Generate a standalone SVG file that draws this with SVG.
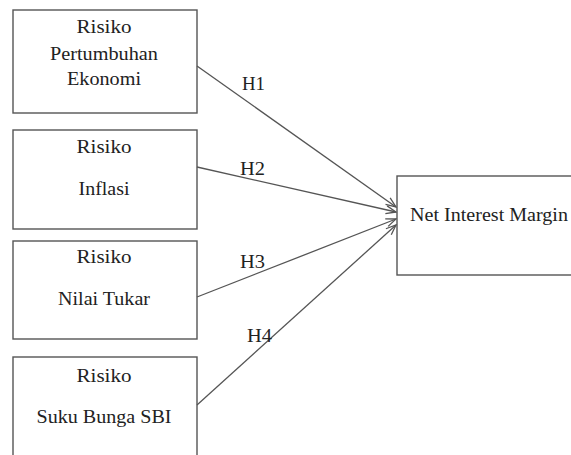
<svg xmlns="http://www.w3.org/2000/svg" width="571" height="455" viewBox="0 0 571 455">
<defs>
<style>
.box{fill:#fff;stroke:#555;stroke-width:1.4}
text{font-family:'Liberation Serif','DejaVu Serif','Times New Roman',serif;font-size:18px;fill:#222}
.t{text-anchor:middle}
.ln{stroke:#555;stroke-width:1.3;fill:none;marker-end:url(#arr)}
</style>
<marker id="arr" markerWidth="12" markerHeight="10" refX="11" refY="5" orient="auto" markerUnits="userSpaceOnUse">
<path d="M1,1 L11,5 L1,9" fill="none" stroke="#555" stroke-width="1.3"/>
</marker>
</defs>
<rect width="571" height="455" fill="#fff"/>
<g id="n1">
<rect class="box" x="13" y="10" width="184" height="103"/>
<text class="t" x="104" y="33" textLength="55" lengthAdjust="spacingAndGlyphs">Risiko</text>
<text class="t" x="104" y="60" textLength="108" lengthAdjust="spacingAndGlyphs">Pertumbuhan</text>
<text class="t" x="104" y="85" textLength="74" lengthAdjust="spacingAndGlyphs">Ekonomi</text>
</g>
<g id="n2">
<rect class="box" x="13" y="130" width="184" height="99"/>
<text class="t" x="104" y="153" textLength="55" lengthAdjust="spacingAndGlyphs">Risiko</text>
<text class="t" x="104" y="195" textLength="51" lengthAdjust="spacingAndGlyphs">Inflasi</text>
</g>
<g id="n3">
<rect class="box" x="13" y="241" width="184" height="98"/>
<text class="t" x="104" y="263" textLength="55" lengthAdjust="spacingAndGlyphs">Risiko</text>
<text class="t" x="104" y="305" textLength="92" lengthAdjust="spacingAndGlyphs">Nilai Tukar</text>
</g>
<g id="n4">
<rect class="box" x="13" y="357" width="184" height="110"/>
<text class="t" x="104" y="382" textLength="55" lengthAdjust="spacingAndGlyphs">Risiko</text>
<text class="t" x="104" y="423" textLength="135" lengthAdjust="spacingAndGlyphs">Suku Bunga SBI</text>
</g>
<g id="n5">
<rect class="box" x="397" y="176" width="190" height="99"/>
<text x="410" y="221" textLength="158" lengthAdjust="spacingAndGlyphs">Net Interest Margin</text>
</g>
<g id="connectors">
<line class="ln" x1="197" y1="66" x2="396" y2="207"/>
<line class="ln" x1="197" y1="167" x2="396" y2="212"/>
<line class="ln" x1="197" y1="297" x2="396" y2="219"/>
<line class="ln" x1="197" y1="405" x2="396" y2="225"/>
<text x="242" y="90" textLength="23" lengthAdjust="spacingAndGlyphs">H1</text>
<text x="240" y="175" textLength="25" lengthAdjust="spacingAndGlyphs">H2</text>
<text x="240" y="268" textLength="25" lengthAdjust="spacingAndGlyphs">H3</text>
<text x="247" y="342" textLength="25" lengthAdjust="spacingAndGlyphs">H4</text>
</g>
</svg>
